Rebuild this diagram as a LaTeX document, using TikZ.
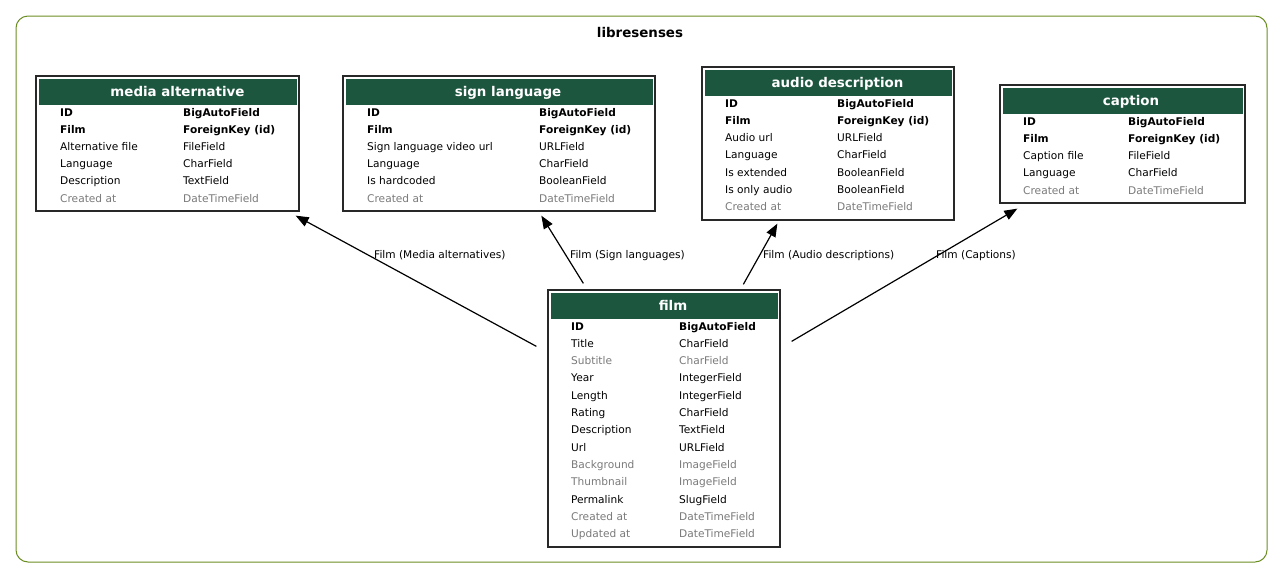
\documentclass[tikz,border=0pt]{standalone}
\usepackage{fontspec}
\setmainfont{DejaVu Sans}
\usetikzlibrary{arrows.meta,calc}

\definecolor{hdrgreen}{RGB}{29,86,63}
\definecolor{clusterline}{RGB}{107,142,35}
\definecolor{mutedtext}{RGB}{122,122,122}
\definecolor{boxline}{RGB}{40,40,40}

\tikzset{
  cluster/.style={draw=clusterline, line width=1pt, rounded corners=12pt, inner sep=0pt},
  tablebox/.style={draw=boxline, line width=1.3pt, fill=white, inner sep=0pt},
  header/.style={fill=hdrgreen, inner sep=0pt, minimum height=26pt},
  headtext/.style={anchor=base, inner sep=0pt, text=white, font=\fontsize{13.4}{15}\selectfont\bfseries},
  keyf/.style={anchor=base west, inner sep=0pt, font=\fontsize{10.6}{12}\selectfont\bfseries},
  plainf/.style={anchor=base west, inner sep=0pt, font=\fontsize{10.6}{12}\selectfont},
  mutedf/.style={anchor=base west, inner sep=0pt, text=mutedtext, font=\fontsize{10.6}{12}\selectfont},
  edgelabel/.style={anchor=base west, inner sep=0pt, font=\fontsize{10.6}{12}\selectfont},
  rel/.style={line width=1.2pt, -{Triangle[length=13pt,width=10pt]}},
}

% one field row: prefix, x of name, x of type, baseline y, style, name, type
\newcommand\frow[7]{%
  \node[#5] (#1-n) at (#2,#4) {#6};
  \node[#5] (#1-t) at (#3,#4) {#7};}

\begin{document}
\begin{tikzpicture}[x=1pt,y=-1pt]
\useasboundingbox (0,0) rectangle (1283,579);

% app cluster
\node[cluster, minimum width=1251pt, minimum height=546pt] (app) at (641.5,289) {};
\node[anchor=base, inner sep=0pt, font=\fontsize{13.4}{15}\selectfont\bfseries] (apptitle) at (640,37) {libresenses};

% media alternative
\node[tablebox, minimum width=263pt, minimum height=135pt] (ma) at (167.5,143.5) {};
\node[header, minimum width=258pt] (ma-h) at (168,92) {};
\node[headtext] (ma-ht) at (177.5,96) {media alternative};
\frow{ma1}{60}{183}{116}{keyf}{ID}{BigAutoField}
\frow{ma2}{60}{183}{133.2}{keyf}{Film}{ForeignKey (id)}
\frow{ma3}{60}{183}{150.4}{plainf}{Alternative file}{FileField}
\frow{ma4}{60}{183}{167.6}{plainf}{Language}{CharField}
\frow{ma5}{60}{183}{184.8}{plainf}{Description}{TextField}
\frow{ma6}{60}{183}{202}{mutedf}{Created at}{DateTimeField}

% sign language
\node[tablebox, minimum width=312pt, minimum height=135pt] (sl) at (499,143.5) {};
\node[header, minimum width=307pt] (sl-h) at (499.5,92) {};
\node[headtext] (sl-ht) at (508,96) {sign language};
\frow{sl1}{367}{539}{116}{keyf}{ID}{BigAutoField}
\frow{sl2}{367}{539}{133.2}{keyf}{Film}{ForeignKey (id)}
\frow{sl3}{367}{539}{150.4}{plainf}{Sign language video url}{URLField}
\frow{sl4}{367}{539}{167.6}{plainf}{Language}{CharField}
\frow{sl5}{367}{539}{184.8}{plainf}{Is hardcoded}{BooleanField}
\frow{sl6}{367}{539}{202}{mutedf}{Created at}{DateTimeField}

% audio description
\node[tablebox, minimum width=252pt, minimum height=153pt] (ad) at (828,143.5) {};
\node[header, minimum width=247pt] (ad-h) at (828.5,83) {};
\node[headtext] (ad-ht) at (837.5,87) {audio description};
\frow{ad1}{725}{837}{107}{keyf}{ID}{BigAutoField}
\frow{ad2}{725}{837}{124.25}{keyf}{Film}{ForeignKey (id)}
\frow{ad3}{725}{837}{141.5}{plainf}{Audio url}{URLField}
\frow{ad4}{725}{837}{158.75}{plainf}{Language}{CharField}
\frow{ad5}{725}{837}{176}{plainf}{Is extended}{BooleanField}
\frow{ad6}{725}{837}{193.25}{plainf}{Is only audio}{BooleanField}
\frow{ad7}{725}{837}{210.5}{mutedf}{Created at}{DateTimeField}

% caption
\node[tablebox, minimum width=245pt, minimum height=118pt] (cap) at (1122.5,144) {};
\node[header, minimum width=240pt] (cap-h) at (1123,101) {};
\node[headtext] (cap-ht) at (1131,105) {caption};
\frow{cap1}{1023}{1128}{125}{keyf}{ID}{BigAutoField}
\frow{cap2}{1023}{1128}{142.25}{keyf}{Film}{ForeignKey (id)}
\frow{cap3}{1023}{1128}{159.5}{plainf}{Caption file}{FileField}
\frow{cap4}{1023}{1128}{176.75}{plainf}{Language}{CharField}
\frow{cap5}{1023}{1128}{194}{mutedf}{Created at}{DateTimeField}

% film
\node[tablebox, minimum width=232pt, minimum height=257pt] (film) at (664,418.5) {};
\node[header, minimum width=227pt] (film-h) at (664.5,306) {};
\node[headtext] (film-ht) at (673,310) {film};
\frow{f1}{571}{679}{330}{keyf}{ID}{BigAutoField}
\frow{f2}{571}{679}{347.3}{plainf}{Title}{CharField}
\frow{f3}{571}{679}{364.6}{mutedf}{Subtitle}{CharField}
\frow{f4}{571}{679}{381.9}{plainf}{Year}{IntegerField}
\frow{f5}{571}{679}{399.2}{plainf}{Length}{IntegerField}
\frow{f6}{571}{679}{416.5}{plainf}{Rating}{CharField}
\frow{f7}{571}{679}{433.8}{plainf}{Description}{TextField}
\frow{f8}{571}{679}{451.1}{plainf}{Url}{URLField}
\frow{f9}{571}{679}{468.4}{mutedf}{Background}{ImageField}
\frow{f10}{571}{679}{485.7}{mutedf}{Thumbnail}{ImageField}
\frow{f11}{571}{679}{503}{plainf}{Permalink}{SlugField}
\frow{f12}{571}{679}{520.3}{mutedf}{Created at}{DateTimeField}
\frow{f13}{571}{679}{537.6}{mutedf}{Updated at}{DateTimeField}

% relations from film to the dependent models
\draw[rel] ($(film.north west)+(-11,57)$) -- ($(ma.south east)+(-4,4)$);
\draw[rel] ($(film.north west)+(36,-6)$) -- ($(sl.south west)+(199,4)$);
\draw[rel] ($(film.north west)+(196,-5)$) -- ($(ad.south west)+(76,3)$);
\draw[rel] ($(film.north east)+(11,52)$) -- ($(cap.south west)+(18,5)$);

\node[edgelabel] (l-ma) at (374,258) {Film (Media alternatives)};
\node[edgelabel] (l-sl) at (570,258) {Film (Sign languages)};
\node[edgelabel] (l-ad) at (763,258) {Film (Audio descriptions)};
\node[edgelabel] (l-cap) at (936,258) {Film (Captions)};
\end{tikzpicture}
\end{document}
